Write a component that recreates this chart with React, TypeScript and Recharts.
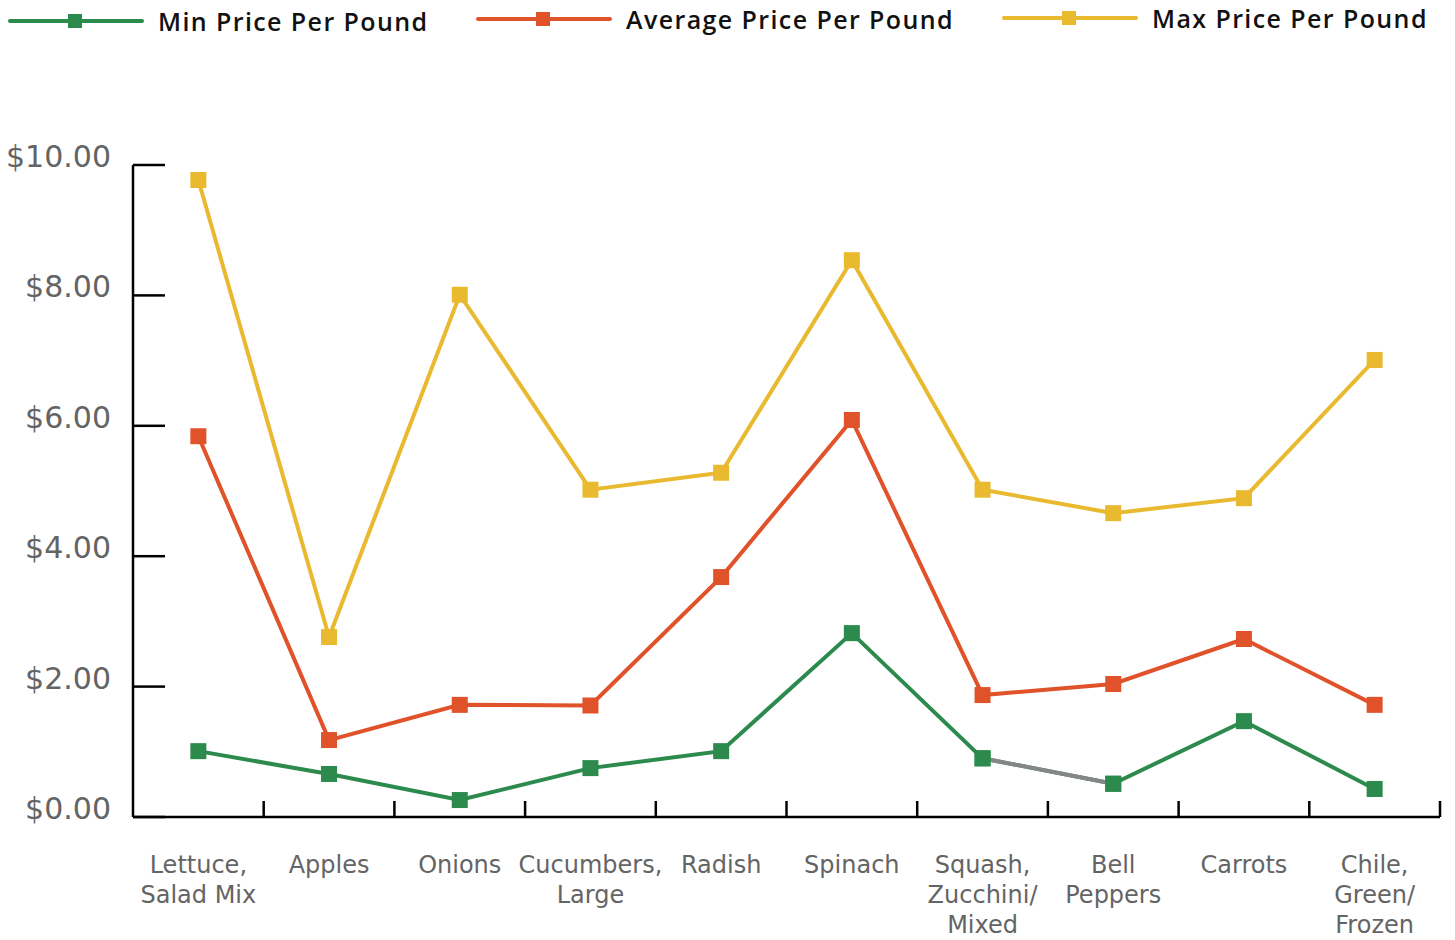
import React from "react";
import { Line, LineChart, XAxis, YAxis } from "recharts";

// category labels, "\n" = line break in the axis label
const categories = [
  "Lettuce,\nSalad Mix",
  "Apples",
  "Onions",
  "Cucumbers,\nLarge",
  "Radish",
  "Spinach",
  "Squash,\nZucchini/\nMixed",
  "Bell\nPeppers",
  "Carrots",
  "Chile,\nGreen/\nFrozen",
];

const minPrice = [1.01, 0.66, 0.26, 0.75, 1.01, 2.82, 0.9, 0.51, 1.47, 0.43];
const avgPrice = [5.84, 1.18, 1.72, 1.71, 3.68, 6.09, 1.87, 2.04, 2.73, 1.72];
const maxPrice = [9.77, 2.76, 8.01, 5.02, 5.28, 8.54, 5.02, 4.66, 4.89, 7.01];

// the Squash -> Bell Peppers stretch of the min line is drawn in grey
const greySegment = ["Squash,\nZucchini/\nMixed", "Bell\nPeppers"];

const yTicks = [0, 2, 4, 6, 8, 10];

const GREEN = "#2b8a4c";
const ORANGE = "#e0522a";
const YELLOW = "#e9b930";
const GREY = "#86868a";
const LABEL = "#646464";
const AXIS_FONT = "'DejaVu Sans', sans-serif";

const W = 1455;
const H = 940;
const PLOT_LEFT = 133;
const PLOT_RIGHT = 15;
const AXIS_H = 123;
const BAND = (W - PLOT_LEFT - PLOT_RIGHT) / categories.length;

const data = categories.map((name, i) => ({
  name,
  min: minPrice[i],
  avg: avgPrice[i],
  max: maxPrice[i],
  minGrey: greySegment.includes(name) ? minPrice[i] : null,
}));

const legendItems = [
  { label: "Min Price Per Pound", color: GREEN, left: 8, top: 21 },
  { label: "Average Price Per Pound", color: ORANGE, left: 476, top: 19 },
  { label: "Max Price Per Pound", color: YELLOW, left: 1002, top: 18 },
];

const squareDot = (color: string) => (props: any) => {
  const { cx, cy, index, value } = props;
  if (value == null || cx == null || cy == null) return <g key={index} />;
  return (
    <rect key={index} x={cx - 8} y={cy - 8} width={16} height={16} fill={color} />
  );
};

const YTick = (props: any) => {
  const { x, y, payload } = props;
  return (
    <g>
      <line x1={x} x2={x + 32} y1={y} y2={y} stroke="#000" strokeWidth={2.5} />
      <text
        x={x - 22}
        y={y}
        dy={2}
        textAnchor="end"
        fill={LABEL}
        fontSize={30}
        fontFamily={AXIS_FONT}
      >
        ${payload.value.toFixed(2)}
      </text>
    </g>
  );
};

const XTick = (props: any) => {
  const { x, y, payload } = props;
  const lines = String(payload.value).split("\n");
  return (
    <g>
      <line
        x1={x + BAND / 2}
        x2={x + BAND / 2}
        y1={y}
        y2={y - 16}
        stroke="#000"
        strokeWidth={2.5}
      />
      <text textAnchor="middle" fill={LABEL} fontSize={24} fontFamily={AXIS_FONT}>
        {lines.map((l, i) => (
          <tspan key={i} x={x} y={y + 56 + i * 30}>
            {l}
          </tspan>
        ))}
      </text>
    </g>
  );
};

export default function App() {
  return (
    <div
      style={{
        position: "absolute",
        left: 0,
        top: 0,
        width: W,
        height: H,
        background: "#fff",
        fontFamily: "'Open Sans', sans-serif",
      }}
    >
      {legendItems.map((it) => (
        <div
          key={it.label}
          style={{
            position: "absolute",
            left: it.left,
            top: it.top - 16,
            height: 32,
            display: "flex",
            alignItems: "center",
          }}
        >
          <svg width={136} height={32}>
            <line x1={2} x2={134} y1={16} y2={16} stroke={it.color} strokeWidth={4} strokeLinecap="round" />
            <rect x={60} y={9} width={14} height={14} fill={it.color} />
          </svg>
          <span
            style={{
              marginLeft: 14,
              fontSize: 25,
              fontWeight: 600,
              letterSpacing: 1.4,
              color: "#111",
              whiteSpace: "nowrap",
            }}
          >
            {it.label}
          </span>
        </div>
      ))}

      <LineChart
        width={W}
        height={H}
        data={data}
        margin={{ top: 165, right: PLOT_RIGHT, bottom: 0, left: 0 }}
      >
        <XAxis
          dataKey="name"
          height={AXIS_H}
          padding={{ left: BAND / 2, right: BAND / 2 }}
          tickSize={0}
          tickMargin={0}
          tick={<XTick />}
          interval={0}
          axisLine={{ stroke: "#000", strokeWidth: 2.5 }}
          tickLine={false}
        />
        <YAxis
          width={PLOT_LEFT}
          domain={[0, 10]}
          ticks={yTicks}
          tickSize={0}
          tickMargin={0}
          tick={<YTick />}
          axisLine={{ stroke: "#000", strokeWidth: 2.5 }}
          tickLine={false}
          interval={0}
        />
        <Line
          dataKey="max"
          stroke={YELLOW}
          strokeWidth={4}
          dot={squareDot(YELLOW)}
          activeDot={false}
          isAnimationActive={false}
        />
        <Line
          dataKey="avg"
          stroke={ORANGE}
          strokeWidth={4}
          dot={squareDot(ORANGE)}
          activeDot={false}
          isAnimationActive={false}
        />
        <Line
          dataKey="min"
          stroke={GREEN}
          strokeWidth={4}
          dot={squareDot(GREEN)}
          activeDot={false}
          isAnimationActive={false}
        />
        <Line
          dataKey="minGrey"
          stroke={GREY}
          strokeWidth={4}
          dot={squareDot(GREEN)}
          activeDot={false}
          connectNulls={false}
          isAnimationActive={false}
        />
      </LineChart>
    </div>
  );
}
